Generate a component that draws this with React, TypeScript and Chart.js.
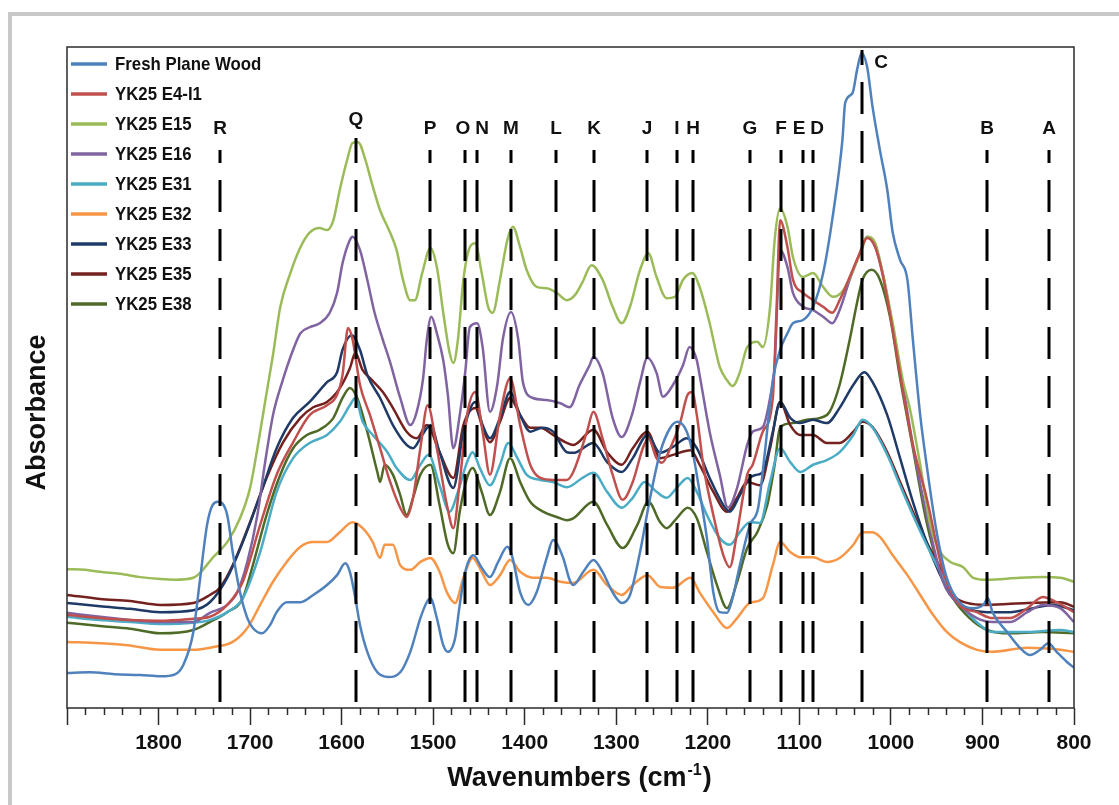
import React, { useEffect, useRef } from 'react';
import { Chart, registerables } from 'chart.js';

Chart.register(...registerables);

const FONT = '"Liberation Sans", Arial, Helvetica, sans-serif';

// ---- Data: [wavenumber (cm-1), absorbance (a.u.)] ----
const freshPlaneWood = [
  [1900, .053], [1875, .054], [1848, .051], [1820, .050], [1798, .048], [1782, .051], [1773, .065], [1762, .115],
  [1755, .191], [1747, .277], [1741, .307], [1735, .312], [1725, .292], [1719, .236], [1711, .175], [1703, .136],
  [1697, .121], [1687, .113], [1678, .126], [1671, .145], [1660, .160], [1645, .160], [1631, .171], [1616, .186],
  [1605, .201], [1596, .219], [1591, .206], [1585, .166], [1580, .126], [1572, .085], [1561, .054], [1549, .047],
  [1536, .054], [1525, .085], [1514, .136], [1507, .160], [1503, .166], [1496, .136], [1489, .095], [1484, .085],
  [1476, .106], [1471, .156], [1465, .206], [1456, .231], [1447, .212], [1438, .198], [1429, .221], [1419, .244],
  [1414, .231], [1405, .175], [1396, .156], [1387, .175], [1376, .227], [1369, .254], [1358, .227], [1351, .194],
  [1347, .186], [1336, .206], [1325, .224], [1315, .206], [1304, .175], [1294, .159], [1285, .171], [1274, .236],
  [1263, .318], [1252, .387], [1241, .424], [1233, .433], [1223, .418], [1216, .383], [1209, .327], [1201, .257],
  [1194, .175], [1187, .145], [1179, .144], [1173, .166], [1165, .216], [1154, .277], [1145, .303], [1138, .383],
  [1129, .496], [1121, .542], [1113, .567], [1107, .582], [1096, .587], [1085, .607], [1074, .658], [1063, .749],
  [1053, .859], [1050, .915], [1042, .930], [1037, .965], [1032, .991], [1026, .970], [1020, .909], [1012, .844],
  [1004, .784], [998, .719], [990, .678], [982, .648], [976, .557], [968, .443], [961, .368], [950, .266],
  [939, .197], [925, .160], [910, .151], [899, .156], [894, .166], [889, .145], [873, .115], [859, .091],
  [848, .080], [837, .088], [828, .098], [819, .085], [808, .070], [800, .061],
];

const yk25E4I1 = [
  [1900, .141], [1864, .136], [1831, .133], [1798, .132], [1762, .135], [1744, .138], [1725, .156], [1708, .191],
  [1689, .277], [1671, .353], [1653, .402], [1635, .443], [1616, .458], [1605, .474], [1599, .504], [1593, .575],
  [1588, .557], [1580, .489], [1569, .443], [1558, .393], [1547, .342], [1536, .303], [1529, .289], [1522, .318],
  [1514, .393], [1506, .458], [1496, .393], [1485, .307], [1478, .272], [1471, .342], [1463, .443], [1454, .478],
  [1446, .418], [1438, .353], [1427, .443], [1416, .499], [1405, .428], [1394, .368], [1383, .348], [1369, .345],
  [1354, .345], [1347, .357], [1332, .418], [1325, .448], [1315, .408], [1304, .353], [1293, .315], [1282, .342],
  [1271, .393], [1265, .408], [1256, .378], [1250, .371], [1241, .393], [1230, .433], [1222, .474], [1217, .478],
  [1212, .443], [1205, .368], [1194, .292], [1183, .231], [1176, .213], [1168, .266], [1157, .353], [1151, .368],
  [1140, .418], [1129, .469], [1125, .600], [1121, .738], [1113, .697], [1107, .648], [1096, .628], [1085, .617],
  [1074, .607], [1064, .598], [1056, .617], [1045, .652], [1034, .688], [1026, .711], [1017, .697], [1009, .655],
  [998, .572], [987, .481], [976, .398], [961, .318], [943, .206], [925, .156], [906, .145], [889, .136],
  [870, .136], [851, .151], [834, .168], [819, .160], [800, .145],
];

const yk25E15 = [
  [1900, .210], [1880, .209], [1864, .206], [1842, .203], [1820, .198], [1798, .195], [1782, .194], [1762, .197],
  [1755, .204], [1741, .227], [1725, .251], [1711, .287], [1700, .333], [1692, .393], [1686, .443], [1680, .493],
  [1675, .534], [1667, .607], [1656, .658], [1645, .697], [1635, .719], [1624, .726], [1616, .723], [1609, .738],
  [1602, .784], [1594, .829], [1588, .855], [1582, .856], [1574, .829], [1567, .794], [1558, .753], [1547, .719],
  [1540, .693], [1533, .648], [1525, .617], [1520, .617], [1512, .658], [1503, .696], [1496, .667], [1489, .598],
  [1482, .537], [1478, .522], [1473, .557], [1467, .648], [1460, .697], [1454, .703], [1447, .658], [1440, .607],
  [1435, .598], [1427, .648], [1419, .708], [1413, .728], [1405, .697], [1398, .663], [1387, .637], [1376, .635],
  [1365, .628], [1354, .617], [1345, .625], [1337, .644], [1327, .670], [1315, .648], [1304, .607], [1294, .582],
  [1285, .607], [1274, .663], [1265, .688], [1256, .652], [1245, .620], [1236, .622], [1227, .648], [1217, .658],
  [1209, .637], [1198, .582], [1187, .516], [1179, .496], [1173, .487], [1165, .508], [1157, .546], [1146, .554],
  [1140, .546], [1132, .607], [1127, .708], [1121, .756], [1113, .728], [1107, .682], [1096, .652], [1085, .658],
  [1074, .637], [1063, .622], [1052, .632], [1041, .663], [1032, .693], [1026, .713], [1017, .703], [1009, .658],
  [998, .582], [987, .496], [979, .451], [968, .368], [957, .277], [946, .236], [935, .221], [921, .213],
  [910, .197], [895, .194], [859, .197], [834, .198], [815, .197], [800, .191],
];

const yk25E16 = [
  [1900, .144], [1864, .138], [1831, .133], [1798, .130], [1762, .130], [1744, .144], [1725, .156], [1714, .175],
  [1703, .221], [1692, .292], [1684, .368], [1675, .443], [1665, .493], [1653, .542], [1645, .567], [1635, .576],
  [1624, .582], [1613, .598], [1605, .628], [1599, .673], [1591, .708], [1588, .713], [1580, .693], [1572, .648],
  [1564, .598], [1555, .557], [1547, .523], [1536, .469], [1525, .428], [1518, .448], [1511, .499], [1507, .557],
  [1502, .592], [1496, .567], [1489, .526], [1484, .474], [1478, .393], [1471, .443], [1465, .508], [1460, .576],
  [1452, .582], [1446, .546], [1438, .448], [1430, .489], [1424, .557], [1415, .599], [1407, .557], [1402, .493],
  [1391, .469], [1376, .466], [1361, .461], [1351, .455], [1340, .489], [1329, .519], [1325, .531], [1315, .507],
  [1304, .439], [1294, .410], [1283, .443], [1274, .493], [1266, .530], [1256, .507], [1249, .471], [1238, .489],
  [1227, .519], [1220, .546], [1212, .526], [1209, .504], [1198, .418], [1187, .353], [1178, .303], [1168, .333],
  [1157, .398], [1151, .418], [1140, .425], [1132, .469], [1127, .519], [1121, .693], [1113, .667], [1107, .628],
  [1096, .607], [1085, .602], [1074, .592], [1064, .582], [1056, .602], [1045, .648], [1034, .688], [1026, .713],
  [1017, .697], [1009, .658], [998, .576], [987, .489], [976, .398], [961, .292], [943, .191], [925, .156],
  [906, .136], [889, .130], [870, .130], [851, .145], [834, .156], [815, .151], [800, .130],
];

const yk25E31 = [
  [1900, .138], [1864, .133], [1831, .130], [1798, .127], [1762, .129], [1744, .133], [1725, .145], [1708, .166],
  [1689, .236], [1671, .327], [1653, .378], [1635, .401], [1616, .413], [1602, .433], [1591, .458], [1585, .469],
  [1577, .433], [1566, .413], [1550, .387], [1540, .363], [1525, .345], [1514, .368], [1505, .383], [1493, .337],
  [1482, .297], [1473, .327], [1463, .372], [1457, .387], [1449, .363], [1438, .337], [1427, .368], [1418, .401],
  [1408, .378], [1398, .353], [1383, .345], [1369, .342], [1354, .334], [1336, .349], [1325, .356], [1310, .327],
  [1294, .303], [1282, .318], [1269, .342], [1256, .327], [1245, .318], [1234, .333], [1222, .348], [1212, .327],
  [1201, .292], [1187, .257], [1176, .247], [1165, .266], [1154, .281], [1143, .280], [1132, .342], [1121, .393],
  [1110, .372], [1099, .357], [1085, .368], [1070, .375], [1056, .387], [1041, .413], [1031, .436], [1020, .424],
  [1004, .383], [990, .337], [976, .292], [961, .247], [946, .206], [932, .171], [917, .145], [903, .126],
  [889, .115], [851, .115], [815, .118], [800, .115],
];

const yk25E32 = [
  [1900, .100], [1864, .098], [1834, .095], [1798, .088], [1762, .088], [1741, .092], [1719, .100], [1703, .121],
  [1689, .156], [1675, .191], [1660, .221], [1645, .244], [1631, .251], [1616, .251], [1602, .266], [1588, .281],
  [1577, .272], [1566, .251], [1558, .227], [1553, .247], [1544, .247], [1536, .216], [1525, .209], [1514, .221],
  [1503, .227], [1493, .206], [1485, .175], [1476, .159], [1467, .197], [1457, .227], [1447, .206], [1438, .186],
  [1427, .201], [1416, .224], [1405, .206], [1391, .197], [1376, .197], [1361, .191], [1347, .189], [1325, .209],
  [1310, .186], [1294, .171], [1282, .186], [1266, .201], [1252, .183], [1238, .182], [1219, .197], [1209, .175],
  [1194, .145], [1179, .121], [1168, .136], [1154, .159], [1140, .166], [1129, .216], [1121, .251], [1110, .236],
  [1099, .228], [1085, .228], [1070, .221], [1056, .227], [1041, .247], [1031, .266], [1021, .266], [1012, .259],
  [998, .231], [982, .201], [968, .171], [954, .141], [939, .115], [925, .100], [906, .088], [889, .085],
  [851, .091], [815, .088], [800, .085],
];

const yk25E33 = [
  [1900, .159], [1864, .154], [1831, .150], [1798, .145], [1762, .148], [1744, .160], [1725, .197], [1708, .251],
  [1689, .322], [1671, .393], [1653, .439], [1635, .463], [1616, .493], [1605, .508], [1599, .542], [1589, .564],
  [1580, .542], [1572, .504], [1558, .469], [1544, .428], [1529, .398], [1522, .393], [1512, .413], [1503, .428],
  [1493, .387], [1478, .333], [1467, .418], [1454, .463], [1446, .428], [1438, .408], [1427, .439], [1416, .478],
  [1405, .443], [1394, .418], [1381, .424], [1369, .418], [1354, .387], [1347, .386], [1325, .401], [1310, .372],
  [1294, .357], [1282, .378], [1266, .413], [1252, .386], [1238, .395], [1223, .408], [1212, .393], [1198, .348],
  [1183, .307], [1176, .297], [1165, .322], [1154, .348], [1146, .353], [1140, .357], [1129, .418], [1121, .463],
  [1110, .439], [1099, .431], [1085, .436], [1070, .431], [1056, .454], [1041, .489], [1029, .508], [1020, .493],
  [1004, .443], [990, .378], [976, .312], [961, .251], [946, .201], [932, .166], [917, .151], [895, .145],
  [870, .145], [845, .151], [823, .156], [800, .148],
];

const yk25E35 = [
  [1900, .171], [1864, .165], [1831, .162], [1798, .156], [1762, .159], [1744, .171], [1733, .182], [1719, .216],
  [1700, .281], [1682, .348], [1664, .402], [1645, .439], [1631, .455], [1616, .463], [1602, .484], [1591, .514],
  [1585, .537], [1577, .511], [1569, .499], [1555, .478], [1544, .454], [1529, .418], [1518, .408], [1507, .428],
  [1493, .387], [1478, .348], [1467, .428], [1454, .454], [1446, .424], [1438, .402], [1427, .433], [1416, .469],
  [1405, .443], [1394, .424], [1383, .424], [1369, .413], [1354, .401], [1347, .398], [1325, .421], [1310, .387],
  [1294, .368], [1282, .393], [1266, .418], [1252, .378], [1238, .383], [1219, .390], [1209, .368], [1194, .327],
  [1179, .297], [1168, .318], [1157, .342], [1143, .337], [1132, .393], [1121, .463], [1110, .428], [1099, .413],
  [1085, .413], [1070, .401], [1056, .401], [1041, .418], [1031, .433], [1020, .425], [1004, .387], [990, .342],
  [976, .297], [961, .251], [946, .212], [932, .171], [917, .159], [895, .156], [851, .159], [815, .160],
  [800, .153],
];

const yk25E38 = [
  [1900, .129], [1864, .124], [1831, .120], [1798, .113], [1762, .118], [1744, .130], [1725, .145], [1708, .166],
  [1697, .216], [1682, .292], [1667, .353], [1653, .393], [1638, .413], [1624, .421], [1609, .439], [1599, .469],
  [1591, .484], [1583, .469], [1572, .418], [1561, .357], [1558, .342], [1553, .368], [1544, .353], [1536, .322],
  [1529, .292], [1522, .318], [1514, .353], [1503, .368], [1493, .307], [1484, .247], [1478, .234], [1471, .297],
  [1463, .348], [1457, .363], [1447, .327], [1438, .292], [1427, .327], [1416, .378], [1405, .342], [1394, .312],
  [1380, .297], [1365, .289], [1354, .284], [1347, .287], [1325, .312], [1310, .277], [1293, .242], [1277, .277],
  [1265, .312], [1252, .281], [1245, .272], [1234, .287], [1222, .303], [1212, .287], [1201, .236], [1190, .186],
  [1179, .151], [1168, .191], [1157, .242], [1146, .266], [1135, .307], [1127, .368], [1121, .425], [1107, .431],
  [1092, .436], [1077, .439], [1067, .448], [1056, .489], [1045, .557], [1037, .613], [1031, .648], [1021, .663],
  [1012, .648], [1001, .592], [990, .499], [976, .393], [961, .281], [946, .206], [932, .166], [914, .136],
  [895, .118], [870, .113], [834, .115], [800, .113],
];

const seriesLabels = [
  'Fresh Plane Wood', 'YK25 E4-I1', 'YK25 E15', 'YK25 E16', 'YK25 E31',
  'YK25 E32', 'YK25 E33', 'YK25 E35', 'YK25 E38',
];
const seriesValues = [
  freshPlaneWood, yk25E4I1, yk25E15, yk25E16, yk25E31,
  yk25E32, yk25E33, yk25E35, yk25E38,
];
const seriesColors = [
  '#4f81bd', '#c0504d', '#9bbb59', '#8064a2', '#4bacc6',
  '#f79646', '#1f3a66', '#74221f', '#4f6a26',
];

// Band assignments (dashed markers)
const bandLabels = ['R', 'Q', 'P', 'O', 'N', 'M', 'L', 'K', 'J', 'I', 'H', 'G', 'F', 'E', 'D', 'C', 'B', 'A'];
const bandWavenumbers = [1733, 1584, 1504, 1465, 1452, 1415, 1366, 1324, 1266, 1234, 1216, 1154, 1120, 1096, 1085, 1032, 895, 827];

// Axis ticks
const xMajorTicks = [1900, 1800, 1700, 1600, 1500, 1400, 1300, 1200, 1100, 1000, 900, 800];
const xMinorStep = 20;
const xMin = 800;
const xMax = 1900;

// ---- Styles (pixel offsets relative to the plot area) ----
const bandStyle: Record<string, { dx?: number; labelY?: number; lineTop?: number }> = {
  Q: { labelY: 73, lineTop: 91 },
  O: { dx: -2 },
  N: { dx: 5 },
  E: { dx: -4 },
  D: { dx: 4 },
  C: { dx: 19, labelY: 16, lineTop: 3 },
};
const DEFAULT_LABEL_Y = 82;
const DEFAULT_LINE_TOP = 103;
const DASH = [32, 17];
const DASH_ANCHOR = 133; // a dash starts here (relative to plot top)

const overlayPlugin = {
  id: 'overlay',
  afterDatasetsDraw(chart: any) {
    const { ctx, chartArea: a } = chart;
    const xs = chart.scales.x;
    ctx.save();

    // plot frame
    ctx.setLineDash([]);
    ctx.strokeStyle = '#2b2b2b';
    ctx.lineWidth = 1.5;
    ctx.strokeRect(a.left, a.top, a.right - a.left, a.bottom - a.top);

    // minor ticks
    for (let v = xMin; v <= xMax; v += xMinorStep) {
      if (xMajorTicks.includes(v)) continue;
      const px = Math.round(xs.getPixelForValue(v)) + 0.5;
      ctx.beginPath();
      ctx.moveTo(px, a.bottom);
      ctx.lineTo(px, a.bottom + 7);
      ctx.stroke();
    }

    // band markers
    const period = DASH[0] + DASH[1];
    ctx.strokeStyle = '#000';
    ctx.lineWidth = 3;
    ctx.setLineDash(DASH);
    ctx.fillStyle = '#111';
    ctx.font = `bold 19px ${FONT}`;
    ctx.textAlign = 'center';
    ctx.textBaseline = 'middle';
    bandWavenumbers.forEach((w, i) => {
      const lab = bandLabels[i];
      const st = bandStyle[lab] || {};
      const px = Math.round(xs.getPixelForValue(w));
      const topOff = st.lineTop ?? DEFAULT_LINE_TOP;
      const top = a.top + topOff;
      ctx.lineDashOffset = (((topOff - DASH_ANCHOR) % period) + period) % period;
      ctx.beginPath();
      ctx.moveTo(px, top);
      ctx.lineTo(px, a.bottom - 6);
      ctx.stroke();
      ctx.fillText(lab, px + (st.dx ?? 0), a.top + (st.labelY ?? DEFAULT_LABEL_Y));
    });
    ctx.setLineDash([]);

    // legend (inside plot, top-left)
    ctx.textAlign = 'left';
    ctx.textBaseline = 'middle';
    ctx.font = `bold 19px ${FONT}`;
    chart.data.datasets.forEach((ds: any, i: number) => {
      const y = a.top + 17 + 30 * i;
      ctx.strokeStyle = ds.borderColor;
      ctx.lineWidth = 3.5;
      ctx.beginPath();
      ctx.moveTo(a.left + 4, y);
      ctx.lineTo(a.left + 40, y);
      ctx.stroke();
      ctx.save();
      ctx.translate(a.left + 48, y + 1);
      ctx.scale(0.885, 1);
      ctx.fillStyle = '#111';
      ctx.fillText(ds.label, 0, 0);
      ctx.restore();
    });

    // axis titles
    ctx.fillStyle = '#111';
    const main = 'Wavenumbers (cm';
    const sup = '-1';
    const close = ')';
    const fMain = `bold 27px ${FONT}`;
    const fSup = `bold 16px ${FONT}`;
    ctx.font = fMain;
    const wMain = ctx.measureText(main).width;
    const wClose = ctx.measureText(close).width;
    ctx.font = fSup;
    const wSup = ctx.measureText(sup).width;
    const total = wMain + wSup + wClose;
    const cx = (a.left + a.right) / 2 + 8;
    const base = a.bottom + 78;
    let x0 = cx - total / 2;
    ctx.textBaseline = 'alphabetic';
    ctx.textAlign = 'left';
    ctx.font = fMain;
    ctx.fillText(main, x0, base);
    x0 += wMain;
    ctx.font = fSup;
    ctx.fillText(sup, x0 + 1, base - 11);
    x0 += wSup + 2;
    ctx.font = fMain;
    ctx.fillText(close, x0, base);

    ctx.save();
    ctx.translate(38, (a.top + a.bottom) / 2 + 35);
    ctx.rotate(-Math.PI / 2);
    ctx.textAlign = 'center';
    ctx.textBaseline = 'middle';
    ctx.font = fMain;
    ctx.fillText('Absorbance', 0, 0);
    ctx.restore();

    ctx.restore();
  },
};

export default function App() {
  const ref = useRef<HTMLCanvasElement>(null);

  useEffect(() => {
    const canvas = ref.current;
    if (!canvas) return;
    const chart = new Chart(canvas, {
      type: 'line',
      data: {
        datasets: seriesValues.map((vals, i) => ({
          label: seriesLabels[i],
          data: vals.map(([x, y]) => ({ x, y })),
          borderColor: seriesColors[i],
          backgroundColor: seriesColors[i],
          borderWidth: 2.5,
          pointRadius: 0,
          fill: false,
          cubicInterpolationMode: 'monotone' as const,
        })),
      },
      options: {
        responsive: false,
        animation: false,
        devicePixelRatio: 1,
        layout: { padding: { left: 67, right: 45, top: 47, bottom: 47 } },
        plugins: {
          legend: { display: false },
          tooltip: { enabled: false },
        },
        scales: {
          x: {
            type: 'linear',
            min: xMin,
            max: xMax,
            reverse: true,
            border: { display: false },
            grid: {
              display: true,
              drawOnChartArea: false,
              drawTicks: true,
              tickLength: 17,
              tickWidth: 1.5,
              tickColor: '#2b2b2b',
            },
            afterBuildTicks: (axis: any) => {
              axis.ticks = xMajorTicks.map((v) => ({ value: v }));
            },
            afterFit: (axis: any) => {
              axis.height = 50;
              axis.paddingLeft = 0;
              axis.paddingRight = 0;
            },
            ticks: {
              autoSkip: false,
              maxRotation: 0,
              minRotation: 0,
              padding: 6,
              color: '#111',
              font: { family: FONT, size: 21, weight: 'bold' },
              callback: (v: any) => (Number(v) === xMax ? '' : String(v)),
            },
          },
          y: {
            type: 'linear',
            display: false,
            min: 0,
            max: 1,
          },
        },
      },
      plugins: [overlayPlugin],
    } as any);
    return () => chart.destroy();
  }, []);

  return (
    <div style={{ position: 'absolute', left: 0, top: 0, width: 1119, height: 805, background: '#fff', overflow: 'hidden' }}>
      <div
        style={{
          position: 'absolute', left: 8, top: 12, width: 1111, height: 793,
          borderTop: '4px solid #c8c8c8', borderLeft: '4px solid #c8c8c8', boxSizing: 'border-box',
        }}
      />
      <canvas ref={ref} width={1119} height={805} style={{ position: 'absolute', left: 0, top: 0, width: 1119, height: 805 }} />
    </div>
  );
}
